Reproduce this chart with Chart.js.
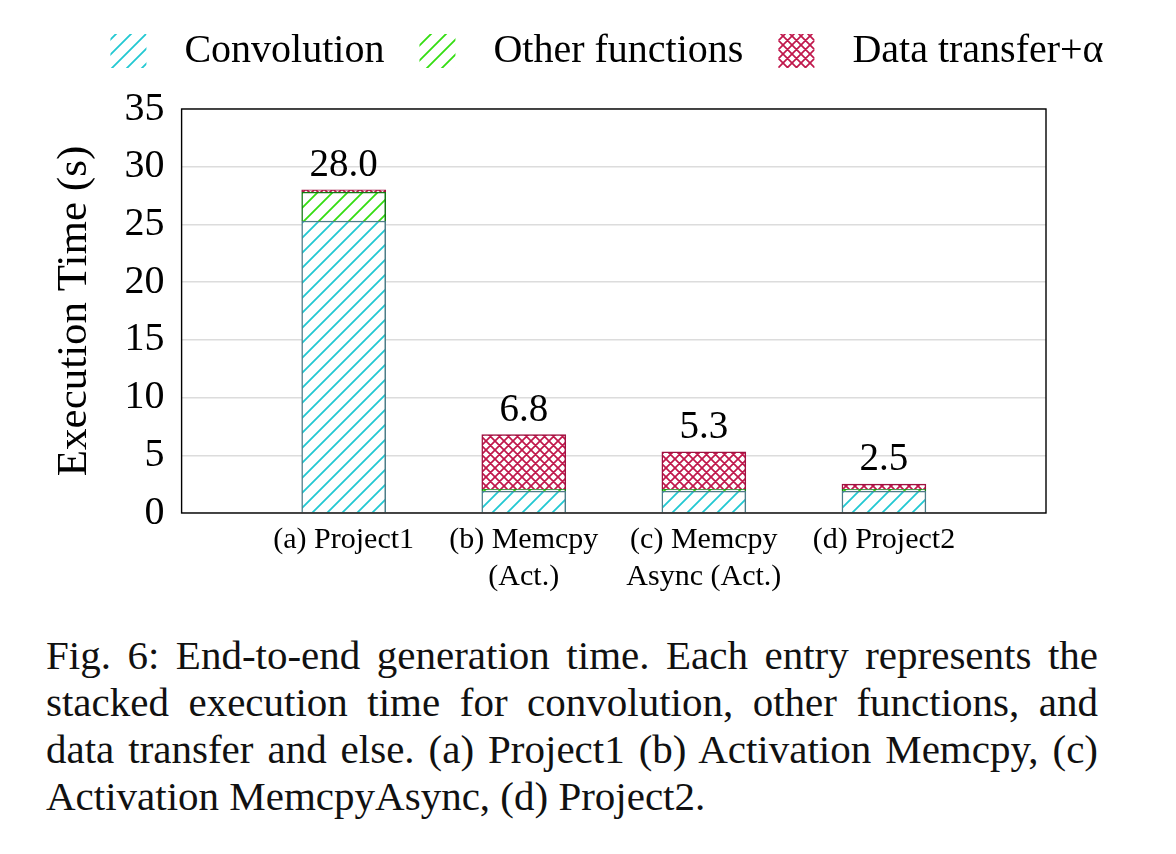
<!DOCTYPE html>
<html>
<head>
<meta charset="utf-8">
<script src="https://cdn.jsdelivr.net/npm/chart.js@4.4.1/dist/chart.umd.min.js"></script>
<style>
  body { margin: 0; background: #fff; width: 1176px; height: 854px; overflow: hidden; }
  #wrap { position: absolute; left: 0; top: 0; width: 1176px; height: 610px; }
  .cap { position: absolute; left: 46px; top: 632px; width: 1052px; font-family: "Liberation Serif", serif; font-size: 41px; color: #111; }
  .cap div { height: 47px; line-height: 47px; white-space: nowrap; text-align: justify; text-align-last: justify; }
  .cap div.last { text-align: left; text-align-last: left; }
</style>
</head>
<body>
<div id="wrap"><canvas id="chart" width="1176" height="610"></canvas></div>
<div class="cap">
  <div>Fig. 6: End-to-end generation time. Each entry represents the</div>
  <div>stacked execution time for convolution, other functions, and</div>
  <div>data transfer and else. (a) Project1 (b) Activation Memcpy, (c)</div>
  <div class="last">Activation MemcpyAsync, (d) Project2.</div>
</div>
<script>
// datos
const categories = [['(a) Project1'], ['(b) Memcpy', '(Act.)'], ['(c) Memcpy', 'Async (Act.)'], ['(d) Project2']];
const convolution = [25.3, 1.9, 1.9, 1.9];
const otherFunctions = [2.5, 0.15, 0.15, 0.15];
const dataTransfer = [0.2, 4.75, 3.25, 0.45];
const totalLabels = ['28.0', '6.8', '5.3', '2.5'];
const yTicks = [0, 5, 10, 15, 20, 25, 30, 35];
const seriesNames = ['Convolution', 'Other functions', 'Data transfer+α'];

const serif = '"Liberation Serif", "DejaVu Serif", serif';

function hatch(color, size, cross, width) {
  const c = document.createElement('canvas');
  c.width = size; c.height = size;
  const g = c.getContext('2d');
  g.fillStyle = '#fff';
  g.fillRect(0, 0, size, size);
  g.strokeStyle = color;
  g.lineWidth = width;
  g.beginPath();
  g.moveTo(-1, size + 1); g.lineTo(size + 1, -1);
  g.moveTo(-2, 2); g.lineTo(2, -2);
  g.moveTo(size - 2, size + 2); g.lineTo(size + 2, size - 2);
  if (cross) {
    g.moveTo(-1, -1); g.lineTo(size + 1, size + 1);
    g.moveTo(size - 2, -2); g.lineTo(size + 2, 2);
    g.moveTo(-2, size - 2); g.lineTo(2, size + 2);
  }
  g.stroke();
  return g.createPattern(c, 'repeat');
}

const toPoints = arr => arr.map((v, i) => ({ x: i, y: v }));

// leyenda: mas ancho permitido, mas espacio abajo, desplazada
const legendTweak = {
  id: 'legendTweak',
  beforeInit(chart) {
    const fit = chart.legend.fit;
    chart.legend.fit = function () {
      const w = this.maxWidth;
      this.maxWidth = w + 80;
      fit.call(this);
      this.maxWidth = w;
      this.width = w;
      this.height += 24;
    };
  },
  afterLayout(chart) {
    const lg = chart.legend;
    lg.left += 75 - 100;
    lg.right += 75 + 100;
    lg.top -= 4;
    lg.bottom -= 4;
  }
};

// marco y etiquetas de total
const framePlugin = {
  id: 'frame',
  afterDatasetsDraw(chart) {
    const { ctx, chartArea: a, scales } = chart;
    ctx.save();
    ctx.strokeStyle = '#000';
    ctx.lineWidth = 1.4;
    ctx.strokeRect(a.left, a.top, a.right - a.left, a.bottom - a.top);
    ctx.fillStyle = '#000';
    ctx.font = '39px ' + serif;
    ctx.textAlign = 'center';
    ctx.textBaseline = 'alphabetic';
    totalLabels.forEach((t, i) => {
      const total = convolution[i] + otherFunctions[i] + dataTransfer[i];
      ctx.fillText(t, scales.x.getPixelForValue(i), scales.y.getPixelForValue(total) - 14);
    });
    ctx.restore();
  }
};

const ctx = document.getElementById('chart').getContext('2d');
new Chart(ctx, {
  type: 'bar',
  data: {
    datasets: [
      { label: seriesNames[0], data: toPoints(convolution), backgroundColor: hatch('#22c8d2', 15, false, 1.8), borderColor: '#4d7d88', borderWidth: 1.5 },
      { label: seriesNames[1], data: toPoints(otherFunctions), backgroundColor: hatch('#33dd11', 15, false, 1.8), borderColor: '#137a13', borderWidth: 1.5 },
      { label: seriesNames[2], data: toPoints(dataTransfer), backgroundColor: hatch('#c0184c', 9, true, 1.7), borderColor: '#a01040', borderWidth: 1.5 }
    ]
  },
  options: {
    responsive: false,
    animation: false,
    barThickness: 84,
    layout: { padding: { left: 18, right: 130, top: 0, bottom: 6 } },
    plugins: {
      legend: {
        position: 'top',
        labels: {
          color: '#000',
          font: { family: serif, size: 40 },
          boxWidth: 36,
          boxHeight: 34,
          padding: 35,
          generateLabels(chart) {
            return Chart.defaults.plugins.legend.labels.generateLabels(chart).map(l => {
              l.text = ' \u2009' + l.text;
              l.lineWidth = 0;
              return l;
            });
          }
        }
      },
      tooltip: { enabled: false }
    },
    scales: {
      x: {
        type: 'linear',
        min: -0.9,
        max: 3.9,
        offset: false,
        stacked: true,
        grid: { display: false, drawTicks: false },
        border: { display: false },
        afterBuildTicks(axis) { axis.ticks = categories.map((c, i) => ({ value: i })); },
        ticks: {
          color: '#000',
          font: { family: serif, size: 30, lineHeight: 1.25 },
          padding: 8,
          maxRotation: 0,
          autoSkip: false,
          callback: v => categories[v]
        }
      },
      y: {
        min: 0,
        max: 35,
        stacked: true,
        grid: { color: '#dcdcdc', lineWidth: 1.5, drawTicks: false },
        border: { display: false },
        afterBuildTicks(axis) { axis.ticks = yTicks.map(v => ({ value: v })); },
        ticks: { autoSkip: false, color: '#000', font: { family: serif, size: 40 }, padding: 17 },
        title: { display: true, text: 'Execution Time (s)', color: '#000', font: { family: serif, size: 43 }, padding: { top: 31, bottom: 7 } }
      }
    }
  },
  plugins: [legendTweak, framePlugin]
});
</script>
</body>
</html>
